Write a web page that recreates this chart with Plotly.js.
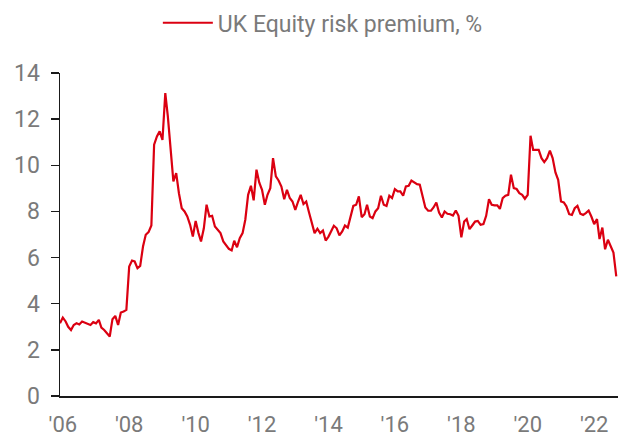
<!DOCTYPE html>
<html>
<head>
<meta charset="utf-8">
<script src="https://cdn.plot.ly/plotly-3.0.1.min.js"></script>
<style>html,body{margin:0;padding:0;background:#fff;}#chart{width:619px;height:438px;}</style>
</head>
<body>
<div id="chart"></div>
<script>
// Monthly UK equity risk premium (%), first value = Dec 2005
const seriesName = "UK Equity risk premium, %";
const startYear = 2005, startMonth = 12;
const v2005 = [3.15];
const v2006 = [3.40, 3.23, 3.00, 2.86, 3.08, 3.15, 3.10, 3.23, 3.18, 3.15, 3.08, 3.20];
const v2007 = [3.15, 3.30, 2.96, 2.86, 2.72, 2.58, 3.33, 3.47, 3.08, 3.62, 3.66, 3.73];
const v2008 = [5.61, 5.87, 5.83, 5.54, 5.64, 6.48, 6.99, 7.10, 7.39, 10.89, 11.25, 11.47];
const v2009 = [11.10, 13.13, 12.12, 10.67, 9.30, 9.66, 8.79, 8.14, 8.00, 7.78, 7.42, 6.91];
const v2010 = [7.59, 7.06, 6.70, 7.27, 8.29, 7.78, 7.81, 7.35, 7.20, 7.06, 6.70, 6.55];
const v2011 = [6.38, 6.31, 6.73, 6.45, 6.84, 7.06, 7.64, 8.72, 9.11, 8.48, 9.81, 9.26];
const v2012 = [8.94, 8.29, 8.72, 9.01, 10.31, 9.52, 9.34, 9.08, 8.53, 8.94, 8.58, 8.43];
const v2013 = [8.07, 8.43, 8.72, 8.32, 8.43, 7.95, 7.49, 7.06, 7.25, 7.06, 7.17, 6.74];
const v2014 = [6.91, 7.13, 7.38, 7.27, 6.96, 7.13, 7.39, 7.30, 7.78, 8.24, 8.29, 8.65];
const v2015 = [7.75, 7.88, 8.29, 7.78, 7.71, 8.00, 8.14, 8.68, 8.29, 8.24, 8.68, 8.58];
const v2016 = [8.97, 8.87, 8.87, 8.68, 9.08, 9.11, 9.34, 9.26, 9.18, 9.16, 8.65, 8.17];
const v2017 = [8.03, 8.03, 8.17, 8.39, 7.95, 7.74, 8.00, 7.90, 7.88, 7.82, 8.04, 7.81];
const v2018 = [6.88, 7.56, 7.67, 7.23, 7.39, 7.56, 7.59, 7.42, 7.45, 7.81, 8.53, 8.29];
const v2019 = [8.26, 8.26, 8.11, 8.58, 8.68, 8.72, 9.59, 9.01, 8.97, 8.79, 8.72, 8.55];
const v2020 = [8.72, 11.28, 10.67, 10.67, 10.67, 10.31, 10.14, 10.31, 10.64, 10.31, 9.69, 9.37];
const v2021 = [8.43, 8.39, 8.22, 7.88, 7.85, 8.14, 8.24, 7.90, 7.85, 7.93, 8.04, 7.78];
const v2022 = [7.45, 7.67, 6.80, 7.30, 6.36, 6.77, 6.48, 6.22, 5.18];
const tickYears = ["2006", "2008", "2010", "2012", "2014", "2016", "2018", "2020", "2022"];
const tickLabels = ["'06", "'08", "'10", "'12", "'14", "'16", "'18", "'20", "'22"];

const values = [].concat(v2005, v2006, v2007, v2008, v2009, v2010, v2011, v2012, v2013,
  v2014, v2015, v2016, v2017, v2018, v2019, v2020, v2021, v2022);
const dates = values.map((_, i) => {
  const m0 = startMonth - 1 + i;
  const y = startYear + Math.floor(m0 / 12);
  const m = (m0 % 12) + 1;
  return y + "-" + (m < 10 ? "0" + m : m) + "-01";
});

const red = "#DB0011";
const grey = "#7a7a7a";
const fontFam = "Roboto, Arial, sans-serif";

Plotly.newPlot("chart", [{
  x: dates, y: values, type: "scatter", mode: "lines", name: seriesName,
  line: {color: red, width: 2.2}
}], {
  width: 619, height: 438,
  margin: {l: 60, r: 1, t: 73, b: 42},
  paper_bgcolor: "#fff", plot_bgcolor: "#fff",
  font: {family: fontFam, color: grey, size: 22},
  showlegend: true,
  legend: {orientation: "h", xref: "container", x: 0.255, xanchor: "left",
    yref: "container", y: 0.997, yanchor: "top",
    font: {size: 23, color: grey}, itemwidth: 50, bgcolor: "rgba(0,0,0,0)"},
  xaxis: {
    type: "date", range: ["2005-12-01", "2022-09-20"],
    tickvals: tickYears.map(y => y + "-01-01"), ticktext: tickLabels,
    showgrid: false, zeroline: false, showline: true, linecolor: "#1a1a1a", linewidth: 1.5,
    ticks: "", ticklabelstandoff: 8, tickfont: {size: 22, color: grey}
  },
  yaxis: {
    range: [0, 14], tickvals: [0, 2, 4, 6, 8, 10, 12, 14],
    showgrid: false, zeroline: false, showline: true, linecolor: "#1a1a1a", linewidth: 1.5,
    ticks: "outside", ticklen: 8, tickwidth: 1.5, tickcolor: "#1a1a1a",
    ticklabelstandoff: 6, tickfont: {size: 23, color: grey}
  }
}, {staticPlot: true, displayModeBar: false});
</script>
</body>
</html>
